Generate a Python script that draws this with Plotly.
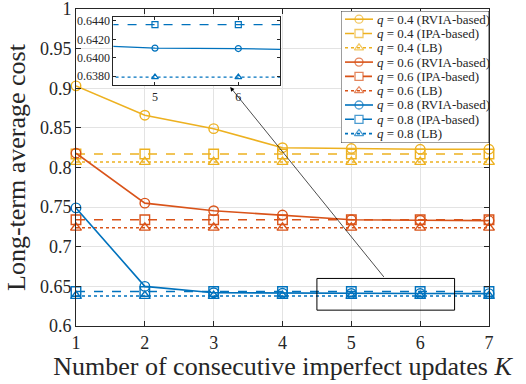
import plotly.graph_objects as go

# ---------------- data ----------------
K = [1, 2, 3, 4, 5, 6, 7]
q04_rvia = [0.903, 0.866, 0.849, 0.825, 0.824, 0.823, 0.823]
q04_ipa = [0.817, 0.817, 0.817, 0.817, 0.817, 0.817, 0.817]
q04_lb = [0.807, 0.807, 0.807, 0.807, 0.807, 0.807, 0.807]
q06_rvia = [0.818, 0.755, 0.7455, 0.740, 0.734, 0.7335, 0.733]
q06_ipa = [0.734, 0.734, 0.734, 0.734, 0.734, 0.734, 0.734]
q06_lb = [0.724, 0.724, 0.724, 0.724, 0.724, 0.724, 0.724]
q08_rvia = [0.749, 0.650, 0.642, 0.6414, 0.64105, 0.6410, 0.6408]
q08_ipa = [0.6436, 0.6436, 0.6436, 0.6436, 0.6436, 0.6436, 0.6436]
q08_lb = [0.6379, 0.6379, 0.6379, 0.6379, 0.6379, 0.6379, 0.6379]

y_tickvals = [0.6, 0.65, 0.7, 0.75, 0.8, 0.85, 0.9, 0.95, 1.0]
y_ticktext = ["0.6", "0.65", "0.7", "0.75", "0.8", "0.85", "0.9", "0.95", "1"]
inset_xticks = [5, 6]
inset_yticks = [0.638, 0.640, 0.642, 0.644]
inset_yticktext = ["0.6380", "0.6400", "0.6420", "0.6440"]

series_names = ["<i>q</i> = 0.4 (RVIA-based)", "<i>q</i> = 0.4 (IPA-based)", "<i>q</i> = 0.4 (LB)",
                "<i>q</i> = 0.6 (RVIA-based)", "<i>q</i> = 0.6 (IPA-based)", "<i>q</i> = 0.6 (LB)",
                "<i>q</i> = 0.8 (RVIA-based)", "<i>q</i> = 0.8 (IPA-based)", "<i>q</i> = 0.8 (LB)"]
series_values = [q04_rvia, q04_ipa, q04_lb, q06_rvia, q06_ipa, q06_lb, q08_rvia, q08_ipa, q08_lb]

# ---------------- styles ----------------
C_Y, C_O, C_B = "#EDB120", "#D95319", "#0072BD"
colors = [C_Y, C_Y, C_Y, C_O, C_O, C_O, C_B, C_B, C_B]
dashes = ["solid", "dash", "dot"] * 3
symbols = ["circle-open", "square-open", "triangle-up-open"] * 3
FONT = "Liberation Serif"
AX = "#262626"

W, H = 526, 384
L, R, T, B = 76, 37, 9, 58
PW, PH = W - L - R, H - T - B


def px_x(p):
    return (p - L) / PW


def px_y(p):
    return (T + PH - p) / PH


fig = go.Figure()

# main traces
for name, vals, c, d, s in zip(series_names, series_values, colors, dashes, symbols):
    fig.add_trace(go.Scatter(
        x=K, y=vals, mode="lines+markers", name=name, cliponaxis=False,
        line=dict(color=c, width=1.6, dash=d),
        marker=dict(symbol=s, size=9.5, color=c, line=dict(color=c, width=1.4)),
        xaxis="x", yaxis="y"))

# inset traces (q = 0.8)
for i in (6, 7, 8):
    fig.add_trace(go.Scatter(
        x=K, y=series_values[i], mode="lines+markers", cliponaxis=True,
        line=dict(color=colors[i], width=1.3, dash=dashes[i]),
        marker=dict(symbol=symbols[i], size=6, color=colors[i], line=dict(color=colors[i], width=1.2)),
        xaxis="x2", yaxis="y2"))

# manual legend (pixel units inside legend box)
LEG_X0, LEG_X1, LEG_Y0, LEG_Y1 = 341, 489, 11, 143
LW, LH = LEG_X1 - LEG_X0, LEG_Y1 - LEG_Y0
row0, rowh = 8.2, 14.3
for i, (name, c, d, s) in enumerate(zip(series_names, colors, dashes, symbols)):
    yy = row0 + rowh * i
    fig.add_trace(go.Scatter(
        x=[4, 18, 32], y=[yy, yy, yy], mode="lines+markers", cliponaxis=False,
        line=dict(color=c, width=1.6, dash=d),
        marker=dict(symbol=s, size=[0, 8, 0], color=c, line=dict(color=c, width=1.3)),
        xaxis="x3", yaxis="y3", hoverinfo="skip"))
    fig.add_annotation(x=35, y=yy, xref="x3", yref="y3", text=name, showarrow=False,
                       xanchor="left", yanchor="middle", borderpad=0,
                       font=dict(family=FONT, size=13, color=AX))

inset_range_y = [0.6370, 0.6444]
inset_range_x = [4.5, 6.5]

fig.update_layout(
    template="none", width=W, height=H, showlegend=False,
    margin=dict(l=L, r=R, t=T, b=B, pad=0),
    paper_bgcolor="white", plot_bgcolor="white",
    font=dict(family=FONT, color=AX),
    xaxis=dict(domain=[0, 1], anchor="y", range=[1, 7], tickvals=K,
               ticks="inside", ticklen=5, tickwidth=0.8, tickcolor=AX,
               showline=True, linecolor=AX, linewidth=0.8, mirror="ticks",
               showgrid=True, gridcolor="#e3e3e3", gridwidth=0.8, zeroline=False,
               tickfont=dict(size=18, family=FONT, color=AX), automargin=False,
               ticklabeloverflow="allow",
               title=dict(text="Number of consecutive imperfect updates <i>K</i>",
                          font=dict(size=26, family=FONT, color=AX), standoff=3)),
    yaxis=dict(domain=[0, 1], anchor="x", range=[0.6, 1.0], tickvals=y_tickvals, ticktext=y_ticktext,
               ticks="inside", ticklen=5, tickwidth=0.8, tickcolor=AX,
               showline=True, linecolor=AX, linewidth=0.8, mirror="ticks",
               showgrid=True, gridcolor="#e3e3e3", gridwidth=0.8, zeroline=False,
               tickfont=dict(size=18, family=FONT, color=AX), automargin=False,
               ticklabeloverflow="allow",
               title=dict(text="Long-term average cost",
                          font=dict(size=26, family=FONT, color=AX), standoff=6)),
    xaxis2=dict(domain=[px_x(113.3), px_x(280)], anchor="y2", range=inset_range_x,
                tickvals=inset_xticks, ticks="inside", ticklen=3, tickwidth=0.8, tickcolor=AX,
                showline=True, linecolor=AX, linewidth=0.8, mirror="ticks",
                showgrid=False, zeroline=False, automargin=False,
                tickfont=dict(size=12, family=FONT, color=AX)),
    yaxis2=dict(domain=[px_y(85.3), px_y(17.3)], anchor="x2", range=inset_range_y,
                tickvals=inset_yticks, ticktext=inset_yticktext,
                ticks="inside", ticklen=3, tickwidth=0.8, tickcolor=AX,
                showline=True, linecolor=AX, linewidth=0.8, mirror="ticks",
                showgrid=False, zeroline=False, automargin=False,
                tickfont=dict(size=12, family=FONT, color=AX)),
    xaxis3=dict(domain=[px_x(LEG_X0), px_x(LEG_X1)], anchor="y3", range=[0, LW],
                visible=False, fixedrange=True),
    yaxis3=dict(domain=[px_y(LEG_Y1), px_y(LEG_Y0)], anchor="x3", range=[LH, 0],
                visible=False, fixedrange=True),
)

# inset white background (inside inset subplot layer)
fig.add_shape(type="rect", xref="x2", yref="y2",
              x0=inset_range_x[0], x1=inset_range_x[1], y0=inset_range_y[0], y1=inset_range_y[1],
              fillcolor="white", line=dict(width=0), layer="below")
# legend box
fig.add_shape(type="rect", xref="x3", yref="y3", x0=0, x1=LW, y0=0, y1=LH,
              fillcolor="white", line=dict(color=AX, width=0.9), layer="below")
# zoom rectangle on main axes
fig.add_shape(type="rect", xref="x", yref="y", x0=4.5, x1=6.5, y0=0.62, y1=0.66,
              line=dict(color="black", width=1), layer="above")
# arrow from rectangle to inset
fig.add_annotation(x=3.24, y=0.9015, xref="x", yref="y",
                   ax=5.49, ay=0.66, axref="x", ayref="y",
                   text="", showarrow=True, arrowhead=2, arrowsize=1.2,
                   arrowwidth=0.7, arrowcolor="black")

fig.write_html("out.html")
